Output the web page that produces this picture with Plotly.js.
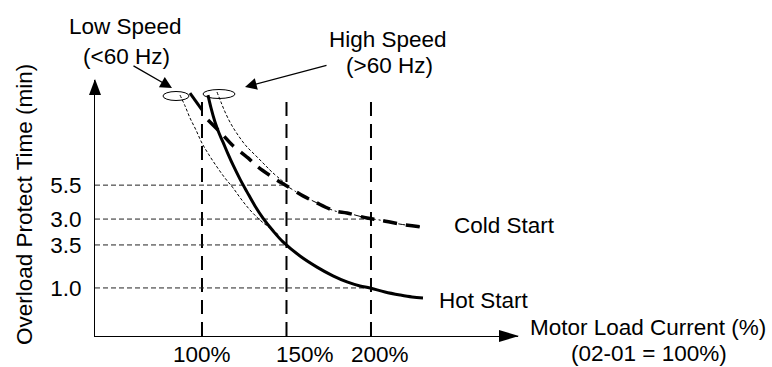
<!DOCTYPE html>
<html><head><meta charset="utf-8">
<script src="https://cdn.plot.ly/plotly-3.0.1.min.js"></script>
<style>html,body{margin:0;padding:0;background:#fff}#chart{width:772px;height:367px}</style>
</head><body><div id="chart"></div>
<script>
// ---- data (x: motor load current %, y: relative protect-time level) ----
const xTickVals = [100, 150, 200];
const xTickLabels = ['100%', '150%', '200%'];
const yTickVals = [4.49, 3.48, 2.71, 1.43];
const yTickLabels = ['5.5', '3.0', '3.5', '1.0'];
const yGuideEndX = [150, 200, 150, 200];
const guideTop = 7.17;

const hotX = [103.55,105.33,107.69,110.06,112.43,115.38,118.34,122.49,126.63,131.36,136.09,142.01,147.93,157.99,168.05,177.51,185.80,193.49,199.41,208.28,217.16,224.26,230.77];
const hotY = [7.17,6.79,6.37,6.04,5.77,5.42,5.09,4.67,4.29,3.87,3.51,3.13,2.80,2.38,2.05,1.79,1.61,1.49,1.43,1.31,1.22,1.16,1.13];

const coldX = [103.55,112.43,117.75,127.22,133.14,144.38,149.70,159.76,166.86,178.70,185.80,197.63,205.33,217.16,230.77];
const coldY = [6.43,5.98,5.69,5.30,5.03,4.64,4.48,4.17,3.99,3.72,3.66,3.51,3.45,3.33,3.24];

const lowThinX = [86.98,89.94,92.90,96.45,100.00,104.14,108.88,113.61,118.34,123.08,128.40,134.32,140.24,146.15];
const lowThinY = [7.17,6.85,6.49,6.13,5.74,5.39,5.03,4.70,4.41,4.08,3.75,3.45,3.21,2.98];

const highThinX = [108.88,111.24,113.61,117.16,121.30,126.04,131.36,136.69,141.42,149.11];
const highThinY = [7.26,6.96,6.67,6.31,5.98,5.66,5.39,5.12,4.88,4.55];

const lowStubX = [92.90, 100.00];
const lowStubY = [7.23, 6.73];

// ---- layout geometry ----
const W = 772, H = 367;
const L = 95, R = 518, T = 80, B = 336;
const FONT = 'Liberation Sans, Arial, sans-serif';
const FS = 22.5;
const px = p => (p - L) / (R - L);      // pixel x -> paper
const py = p => (B - p) / (B - T);      // pixel y -> paper

const traces = [];
// vertical guides
xTickVals.forEach(v => traces.push({x:[v,v], y:[0,guideTop], mode:'lines', line:{color:'#000', width:2, dash:'14px,8px'}, hoverinfo:'skip'}));
// horizontal guides
yTickVals.forEach((v,i) => traces.push({x:[36.69, yGuideEndX[i]], y:[v,v], mode:'lines', line:{color:'#222', width:1, dash:'5px,3px'}, hoverinfo:'skip'}));
// thin guide curves
traces.push({x:lowThinX, y:lowThinY, mode:'lines', line:{color:'#000', width:1, dash:'3px,2px', shape:'spline'}});
traces.push({x:highThinX, y:highThinY, mode:'lines', line:{color:'#000', width:1, dash:'3px,2px', shape:'spline'}});
const ti = coldX.findIndex(v => v >= 149.7);
traces.push({x:coldX.slice(ti), y:coldY.slice(ti), mode:'lines', line:{color:'#000', width:1, dash:'7px,3px,2px,3px', shape:'spline'}});
// main curves
traces.push({x:coldX, y:coldY, mode:'lines', line:{color:'#000', width:3.5, dash:'14px,9px', shape:'spline'}});
traces.push({x:hotX, y:hotY, mode:'lines', line:{color:'#000', width:3, shape:'spline'}});
traces.push({x:lowStubX, y:lowStubY, mode:'lines', line:{color:'#000', width:3}});

const ann = (text, x, y, opt) => Object.assign({text, x:px(x), y:py(y), xref:'paper', yref:'paper', showarrow:false, xanchor:'center', yanchor:'middle', font:{family:FONT, size:FS, color:'#000'}}, opt||{});

const annotations = [
  ann('Low Speed', 125.5, 26),
  ann('(&lt;60 Hz)', 126, 56),
  ann('High Speed', 388, 39),
  ann('(&gt;60 Hz)', 389, 65),
  ann('Cold Start', 452, 225, {xanchor:'left'}),
  ann('Hot Start', 437, 300, {xanchor:'left'}),
  ann('Motor Load Current (%)', 648, 327),
  ann('(02-01 = 100%)', 649, 353),
  ann('Overload Protect Time (min)', 24, 205, {textangle:-90}),
  {text:'', x:px(172), y:py(88), xref:'paper', yref:'paper', showarrow:true, ax:-40, ay:-23, arrowhead:2, arrowsize:1.8, arrowwidth:1.3, arrowcolor:'#000'},
  {text:'', x:px(245), y:py(87), xref:'paper', yref:'paper', showarrow:true, ax:83, ay:-22, arrowhead:2, arrowsize:1.8, arrowwidth:1.3, arrowcolor:'#000'}
];
const xLabShift = [0, 19, 9];
xTickVals.forEach((v,i) => annotations.push({text:xTickLabels[i], x:v, xref:'x', y:py(354), yref:'paper', xshift:xLabShift[i], showarrow:false, xanchor:'center', yanchor:'middle', font:{family:FONT, size:FS, color:'#000'}}));

const shapes = [
  {type:'circle', xref:'paper', yref:'paper', x0:px(163), x1:px(189), y0:py(100.5), y1:py(91.5), line:{color:'#000', width:1}},
  {type:'circle', xref:'paper', yref:'paper', x0:px(203), x1:px(235), y0:py(98.5), y1:py(89.5), line:{color:'#000', width:1}},
  {type:'path', xref:'paper', yref:'paper', path:`M ${px(89)} ${py(95)} L ${px(101)} ${py(95)} L ${px(95)} ${py(79)} Z`, fillcolor:'#000', line:{color:'#000', width:0}},
  {type:'path', xref:'paper', yref:'paper', path:`M ${px(499)} ${py(330)} L ${px(499)} ${py(342)} L ${px(519)} ${py(336)} Z`, fillcolor:'#000', line:{color:'#000', width:0}}
];

const layout = {
  width:W, height:H, showlegend:false,
  margin:{l:L, r:W-R, t:T, b:H-B, pad:0},
  paper_bgcolor:'#fff', plot_bgcolor:'#fff',
  xaxis:{range:[36.69, 286.99], showline:true, linecolor:'#000', linewidth:1, showgrid:false, zeroline:false, showticklabels:false, ticks:'', fixedrange:true},
  yaxis:{range:[0, 7.619], showline:true, linecolor:'#000', linewidth:1, showgrid:false, zeroline:false, tickvals:yTickVals, ticktext:yTickLabels, ticks:'outside', ticklen:8, tickcolor:'rgba(0,0,0,0)', tickfont:{family:FONT, size:FS, color:'#000'}, fixedrange:true},
  annotations, shapes
};
Plotly.newPlot('chart', traces, layout, {staticPlot:true, displayModeBar:false});
</script></body></html>
